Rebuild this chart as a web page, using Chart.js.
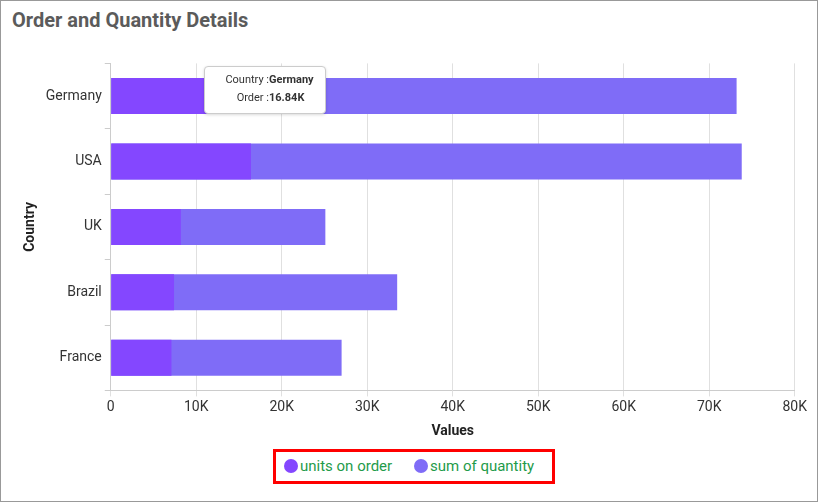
<!DOCTYPE html>
<html><head><meta charset="utf-8">
<script src="https://cdn.jsdelivr.net/npm/chart.js"></script>
<style>
body{margin:0;width:818px;height:502px;font-family:Roboto,sans-serif;}
#frame{position:absolute;left:0;top:0;width:816px;height:500px;border:1px solid #999;}
#title{position:absolute;left:12px;top:8px;font-size:20px;font-weight:bold;color:#5b5b5b;}
#wrap{position:absolute;left:18px;top:52px;width:792px;height:392px;}
#legend{position:absolute;left:273px;top:449px;width:282px;height:35px;border:3px solid #f00;box-sizing:border-box;font-size:15px;color:#1f9b4a;}
.it{position:absolute;top:5px;display:flex;align-items:center;}
.dot{width:14px;height:14px;border-radius:50%;margin-right:2px;}
#tip{position:absolute;left:204px;top:66px;width:120px;height:46px;background:#fff;border:1px solid #ccc;border-radius:4px;box-shadow:0 1px 3px rgba(0,0,0,.15);font-size:11px;color:#333;}
#tip div{position:absolute;white-space:nowrap;}
</style></head><body>
<div id="frame"></div>
<div id="title">Order and Quantity Details</div>
<div id="wrap"><canvas id="c"></canvas></div>
<div id="tip"><div style="right:56px;top:6px">Country :</div><div style="left:64px;top:6px;font-weight:bold">Germany</div>
<div style="right:56px;top:24px">Order :</div><div style="left:64px;top:24px;font-weight:bold">16.84K</div></div>
<div id="legend"><div class="it" style="left:8px"><span class="dot" style="background:#8447ff"></span>units on order</div>
<div class="it" style="left:138px"><span class="dot" style="background:#7f6cf7"></span>sum of quantity</div></div>
<script>
const categories=["Germany","USA","UK","Brazil","France"];
const unitsOnOrder=[16840,16400,8200,7400,7100];
const sumOfQuantity=[73200,73800,25100,33500,27000];
const xTicks=[0,10000,20000,30000,40000,50000,60000,70000,80000];
new Chart(document.getElementById('c'),{type:'bar',
data:{labels:categories,datasets:[
{label:'units on order',data:unitsOnOrder,backgroundColor:'#8447ff',grouped:false,barPercentage:0.55,categoryPercentage:1},
{label:'sum of quantity',data:sumOfQuantity,backgroundColor:'#7f6cf7',grouped:false,barPercentage:0.55,categoryPercentage:1}]},
options:{indexAxis:'y',responsive:true,maintainAspectRatio:false,animation:false,
layout:{padding:{top:8,right:0}},
plugins:{legend:{display:false},tooltip:{enabled:false}},
scales:{
x:{min:0,max:80000,afterBuildTicks:a=>{a.ticks=xTicks.map(v=>({value:v}))},
ticks:{font:{size:14,family:'Roboto'},color:'#333',callback:v=>v===0?'0':(v/1000)+'K'},
grid:{color:'#e0e0e0',drawTicks:true,tickLength:6},border:{color:'#ccc'},
title:{display:true,text:'Values',font:{size:14,weight:'bold',family:'Roboto'},color:'#222'}},
y:{ticks:{font:{size:14,family:'Roboto'},color:'#333'},
grid:{offset:true,drawOnChartArea:false,tickLength:6,color:'#ccc'},border:{color:'#ccc'},
title:{display:true,text:'Country',font:{size:14,weight:'bold',family:'Roboto'},color:'#222'}}}}});
</script></body></html>
